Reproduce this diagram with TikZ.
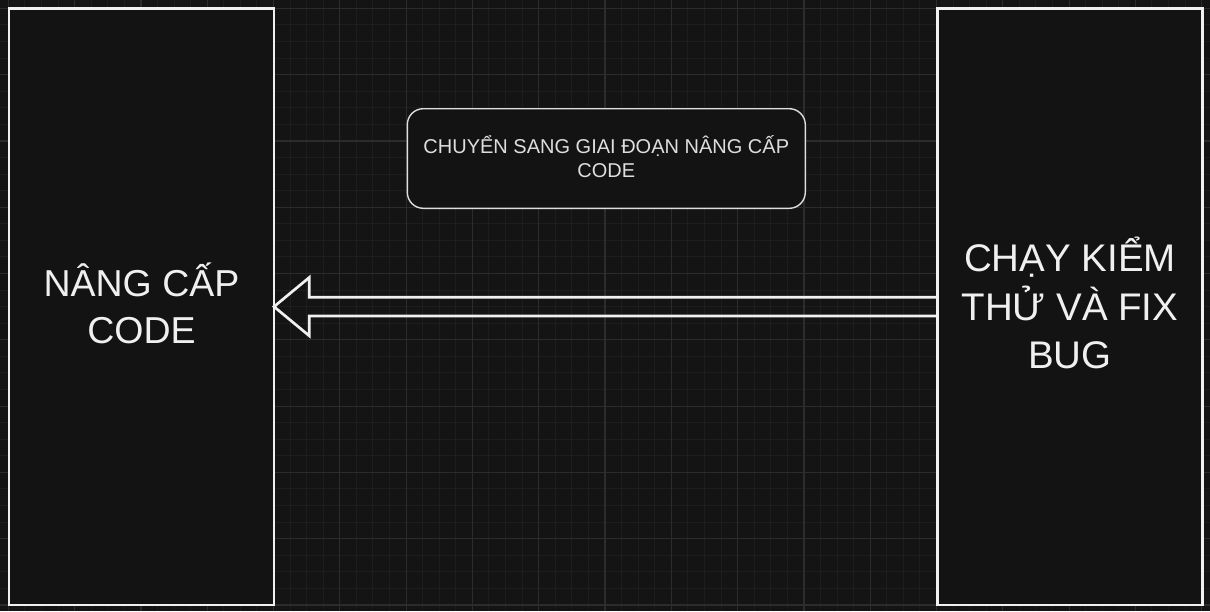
\documentclass[tikz,border=0pt]{standalone}
\usepackage{fontspec}
\setmainfont{Liberation Sans}
\usetikzlibrary{calc}
\definecolor{bg}{HTML}{141414}
\definecolor{gminor}{HTML}{1D1D1D}
\definecolor{gmajor}{HTML}{2C2C2C}
\definecolor{boxfill}{HTML}{131313}
\definecolor{fg}{HTML}{F0F0F0}
\definecolor{fgsoft}{HTML}{DEDEDE}
\begin{document}
\begin{tikzpicture}[x=1pt,y=-1pt,
  bigbox/.style={draw=fg, fill=boxfill, line width=2.7pt, minimum width=265pt,
    minimum height=596.7pt, inner sep=0pt, outer sep=0pt, text=fg, align=center},
  notebox/.style={draw=fgsoft, fill=boxfill, line width=1.4pt, rounded corners=16pt,
    minimum width=398pt, minimum height=99.6pt, inner sep=0pt, outer sep=0pt,
    align=center, text=fgsoft, font=\fontsize{20}{23.3}\selectfont},
  blockarrow/.style={draw=fg, line width=2.7pt, line join=miter},
  minorline/.style={gminor, line width=1pt},
  majorline/.style={gmajor, line width=1.2pt}]
\useasboundingbox (0,0) rectangle (1210,611);
\fill[bg] (0,0) rectangle (1210,611);
\foreach \i in {-1,...,73} {\draw[minorline] ({8.3+16.575*\i},0) -- ({8.3+16.575*\i},611);}
\foreach \i in {-1,...,37} {\draw[minorline] (0,{8.3+16.575*\i}) -- (1210,{8.3+16.575*\i});}
\foreach \i in {0,...,18} {\draw[majorline] ({8.3+66.3*\i},0) -- ({8.3+66.3*\i},611);}
\foreach \i in {0,...,9} {\draw[majorline] (0,{8.3+66.3*\i}) -- (1210,{8.3+66.3*\i});}

\node[bigbox, font=\fontsize{37.5}{46.7}\selectfont] (upgrade) at (141.5,306.65)
  {\raisebox{0pt}[26.8pt][0pt]{NÂNG CẤP}\\CODE};
\node[bigbox, font=\fontsize{38.5}{48.6}\selectfont] (test) at (1069.9,306.65)
  {\raisebox{0pt}[27.5pt][0pt]{CHẠY KIỂM}\\THỬ VÀ FIX\\BUG};
\node[notebox] (phase) at (606.3,158.5)
  {\raisebox{0pt}[14.3pt][0pt]{CHUYỂN SANG GIAI ĐOẠN NÂNG CẤP}\\CODE};

\draw[blockarrow] (upgrade.east) -- ($(upgrade.east)+(35.3,-29.2)$)
  -- ($(upgrade.east)+(35.3,-9.4)$) -- ($(test.west)+(0,-9.4)$)
  -- ($(test.west)+(0,9.4)$) -- ($(upgrade.east)+(35.3,9.4)$)
  -- ($(upgrade.east)+(35.3,29.2)$) -- cycle;
\end{tikzpicture}
\end{document}
